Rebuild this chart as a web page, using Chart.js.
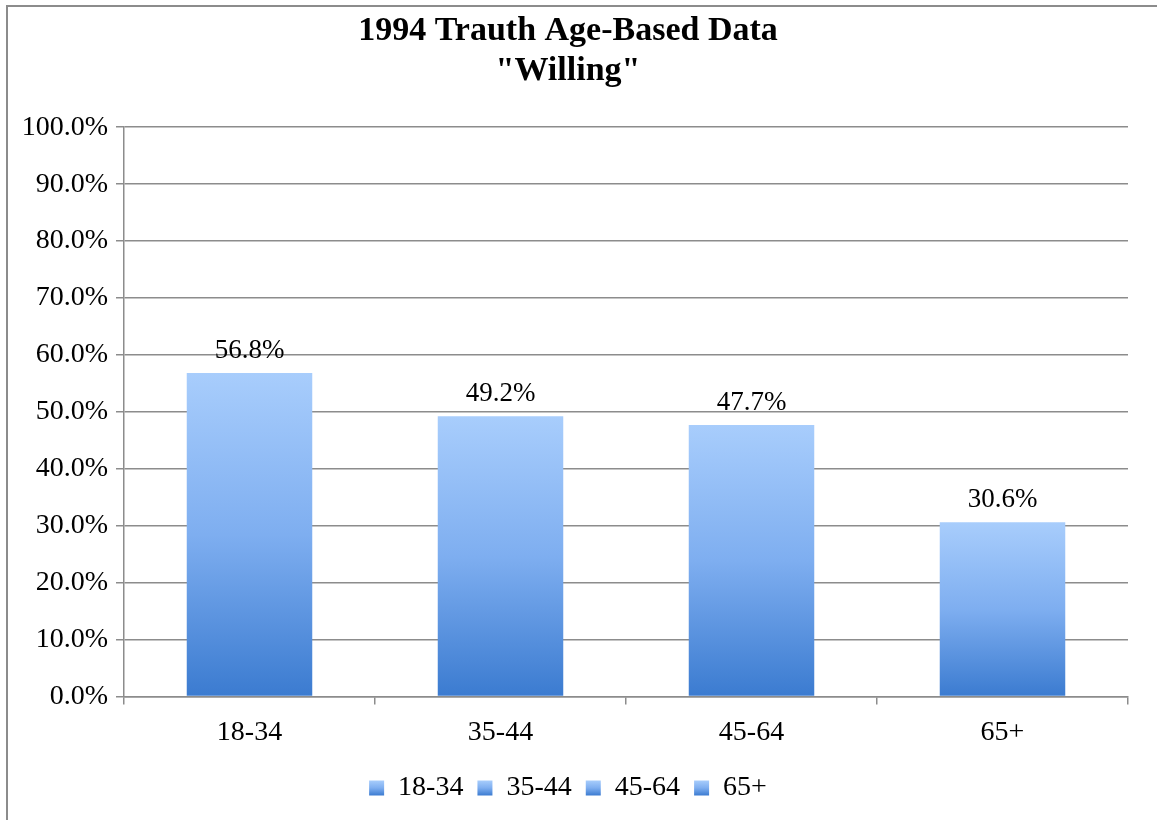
<!DOCTYPE html>
<html>
<head>
<meta charset="utf-8">
<script src="https://cdn.jsdelivr.net/npm/chart.js@4"></script>
<style>
  html, body { margin: 0; padding: 0; background: #fff; overflow: hidden; }
  #frame {
    position: absolute; left: 6px; top: 5px; width: 1200px; height: 900px;
    border-left: 2px solid #8c8c8c; border-top: 2px solid #8c8c8c;
  }
  #wrap { position: absolute; left: 0; top: 0; width: 1157px; height: 820px; }
</style>
</head>
<body>
<div id="frame"></div>
<div id="wrap"><canvas id="chart"></canvas></div>
<script>
const titleLines = ["1994 Trauth Age-Based Data", "\"Willing\""];
const ageGroups = ["18-34", "35-44", "45-64", "65+"];
const willingPct = [56.8, 49.2, 47.7, 30.6];
const yTicks = [0, 10, 20, 30, 40, 50, 60, 70, 80, 90, 100];

const FONT = "'Liberation Serif', 'Times New Roman', serif";
const GRID = "#8c8c8c";
const LIGHT = "#a8cdfc", MID = "#7eaef0", DARK = "#3b7bd0";

function vGradient(ctx, top, bottom) {
  const g = ctx.createLinearGradient(0, top, 0, bottom);
  g.addColorStop(0, LIGHT);
  g.addColorStop(0.5, MID);
  g.addColorStop(1, DARK);
  return g;
}

// each bar gets its own light-to-dark gradient, top to bottom
function barGradient(ctx) {
  const chart = ctx.chart;
  if (!chart.chartArea || ctx.type !== "data") return MID;
  const y = chart.scales.y;
  return vGradient(chart.ctx, y.getPixelForValue(ctx.parsed.y), y.getPixelForValue(0));
}

// give the legend boxes the same gradient once their position is known
const legendGradient = {
  id: "legendGradient",
  beforeDraw(chart) {
    const lg = chart.legend;
    if (!lg || !lg.legendHitBoxes || !lg.legendHitBoxes.length) return;
    const hb = lg.legendHitBoxes[0];
    const top = hb.top + (hb.height - 15) / 2;
    const g = vGradient(chart.ctx, top, top + 15);
    lg.legendItems.forEach(it => { it.fillStyle = g; it.strokeStyle = g; });
  }
};

const valueLabels = {
  id: "valueLabels",
  afterDatasetsDraw(chart) {
    const ctx = chart.ctx;
    const meta = chart.getDatasetMeta(0);
    ctx.save();
    ctx.font = "27px " + FONT;
    ctx.fillStyle = "#000";
    ctx.textAlign = "center";
    ctx.textBaseline = "bottom";
    meta.data.forEach((bar, i) => {
      ctx.fillText(willingPct[i].toFixed(1) + "%", bar.x, bar.y - 9);
    });
    ctx.restore();
  }
};

new Chart(document.getElementById("chart"), {
  type: "bar",
  data: {
    labels: ageGroups,
    datasets: [{
      label: "Willing",
      data: willingPct,
      backgroundColor: barGradient,
      borderWidth: 0,
      categoryPercentage: 1.0,
      barPercentage: 0.5
    }]
  },
  options: {
    responsive: true,
    maintainAspectRatio: false,
    animation: false,
    layout: { padding: { left: 8, right: 29, top: 0, bottom: 8 } },
    plugins: {
      title: {
        display: true,
        text: titleLines,
        color: "#000",
        font: { family: FONT, size: 34, weight: "bold", lineHeight: 1.18 },
        padding: { top: 11, bottom: 36 }
      },
      legend: {
        position: "bottom",
        labels: {
          color: "#000",
          font: { family: FONT, size: 28 },
          boxWidth: 15,
          boxHeight: 15,
          padding: 14,
          generateLabels: () => ageGroups.map((g, i) => ({
            text: g,
            fillStyle: MID,
            strokeStyle: MID,
            lineWidth: 0,
            index: i
          }))
        },
        onClick: () => {}
      },
      tooltip: { enabled: false }
    },
    scales: {
      x: {
        offset: true,
        grid: {
          offset: true,
          drawOnChartArea: false,
          drawTicks: true,
          tickLength: 8,
          color: GRID,
          lineWidth: 1.5
        },
        border: { color: GRID, width: 1.5 },
        ticks: {
          color: "#000",
          font: { family: FONT, size: 28 },
          padding: 11
        }
      },
      y: {
        min: 0,
        max: 100,
        afterBuildTicks: (s) => { s.ticks = yTicks.map(v => ({ value: v })); },
        afterFit: (s) => { s.width = 116; },
        grid: {
          color: GRID,
          lineWidth: 1.5,
          tickLength: 8
        },
        border: { color: GRID, width: 1.5 },
        ticks: {
          color: "#000",
          font: { family: FONT, size: 28 },
          padding: 8,
          callback: (v) => v.toFixed(1) + "%"
        }
      }
    }
  },
  plugins: [legendGradient, valueLabels]
});
</script>
</body>
</html>
